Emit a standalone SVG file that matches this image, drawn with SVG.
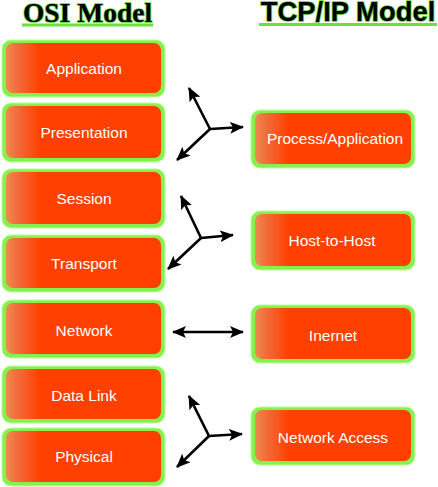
<svg xmlns="http://www.w3.org/2000/svg" width="438" height="487" viewBox="0 0 438 487">
<defs>
<linearGradient id="og" x1="0" y1="0" x2="1" y2="0">
<stop offset="0" stop-color="#EE8A52"/>
<stop offset="0.08" stop-color="#F26A38"/>
<stop offset="0.22" stop-color="#FF4000"/>
<stop offset="1" stop-color="#FF4000"/>
</linearGradient>
<marker id="ah" markerUnits="userSpaceOnUse" markerWidth="14" markerHeight="12" refX="13" refY="6" orient="auto-start-reverse" viewBox="0 0 14 12">
<path d="M0,0 L14,6 L0,12 L3,6 z" fill="#000"/>
</marker>
<style>
.outer{fill:#86F04E;stroke:#B8FF98;stroke-width:1}
.inner{fill:url(#og)}
.lbl{font-family:"Liberation Sans",Arial,sans-serif;font-size:15.5px;fill:#fff;text-anchor:middle}
.arr{stroke:#000;stroke-width:2.6;fill:none;marker-end:url(#ah)}
.ttl{fill:#000;stroke:#5CD82E;stroke-width:1.6;paint-order:stroke;font-weight:bold;text-anchor:middle}
</style>
</defs>
<rect width="438" height="487" fill="#fff"/>
<g id="titles">
<text class="ttl" x="87.5" y="22" font-family="'Liberation Serif','Times New Roman',serif" font-size="27.5">OSI Model</text>
<rect x="22" y="23.5" width="131" height="3" fill="#6CE03A"/>
<text class="ttl" x="348" y="20.5" font-family="'Liberation Sans',Arial,sans-serif" font-size="27.4">TCP/IP Model</text>
<rect x="259" y="23" width="178" height="3" fill="#6CE03A"/>
</g>
<g id="application"><rect class="outer" x="2" y="40" width="163" height="57" rx="9"/><rect class="inner" x="6" y="43" width="155" height="50" rx="7"/><text class="lbl" x="84" y="74">Application</text></g>
<g id="presentation"><rect class="outer" x="2" y="103" width="163" height="59" rx="9"/><rect class="inner" x="6" y="106" width="155" height="52" rx="7"/><text class="lbl" x="84" y="138">Presentation</text></g>
<g id="session"><rect class="outer" x="2" y="169" width="163" height="59" rx="9"/><rect class="inner" x="6" y="172" width="155" height="52" rx="7"/><text class="lbl" x="84" y="204">Session</text></g>
<g id="transport"><rect class="outer" x="2" y="235" width="163" height="57" rx="9"/><rect class="inner" x="6" y="238" width="155" height="50" rx="7"/><text class="lbl" x="84" y="269">Transport</text></g>
<g id="network"><rect class="outer" x="2" y="300" width="163" height="58" rx="9"/><rect class="inner" x="6" y="303" width="155" height="51" rx="7"/><text class="lbl" x="84" y="336">Network</text></g>
<g id="datalink"><rect class="outer" x="2" y="366" width="163" height="57" rx="9"/><rect class="inner" x="6" y="369" width="155" height="50" rx="7"/><text class="lbl" x="84" y="401">Data Link</text></g>
<g id="physical"><rect class="outer" x="2" y="428" width="163" height="58" rx="9"/><rect class="inner" x="6" y="431" width="155" height="51" rx="7"/><text class="lbl" x="84" y="462">Physical</text></g>
<g id="process"><rect class="outer" x="251" y="110" width="164" height="58" rx="9"/><rect class="inner" x="255" y="113" width="156" height="51" rx="7"/><text class="lbl" x="335" y="144">Process/Application</text></g>
<g id="hosttohost"><rect class="outer" x="251" y="211" width="164" height="59" rx="9"/><rect class="inner" x="255" y="214" width="156" height="52" rx="7"/><text class="lbl" x="332" y="246">Host-to-Host</text></g>
<g id="internet"><rect class="outer" x="251" y="305" width="164" height="58" rx="9"/><rect class="inner" x="255" y="308" width="156" height="51" rx="7"/><text class="lbl" x="333" y="341">Inernet</text></g>
<g id="networkaccess"><rect class="outer" x="251" y="407" width="164" height="58" rx="9"/><rect class="inner" x="255" y="410" width="156" height="51" rx="7"/><text class="lbl" x="333" y="443">Network Access</text></g>
<g id="connectors">
<line class="arr" x1="210" y1="129" x2="189" y2="88"/>
<line class="arr" x1="210" y1="129" x2="243" y2="127"/>
<line class="arr" x1="210" y1="129" x2="177" y2="160"/>
<line class="arr" x1="201" y1="238" x2="181" y2="196"/>
<line class="arr" x1="201" y1="238" x2="233" y2="235"/>
<line class="arr" x1="201" y1="238" x2="168" y2="269"/>
<line class="arr" x1="173" y1="332" x2="243" y2="332" marker-start="url(#ah)"/>
<line class="arr" x1="209" y1="436" x2="189" y2="396"/>
<line class="arr" x1="209" y1="436" x2="242" y2="434"/>
<line class="arr" x1="209" y1="436" x2="177" y2="467"/>
</g>
</svg>
